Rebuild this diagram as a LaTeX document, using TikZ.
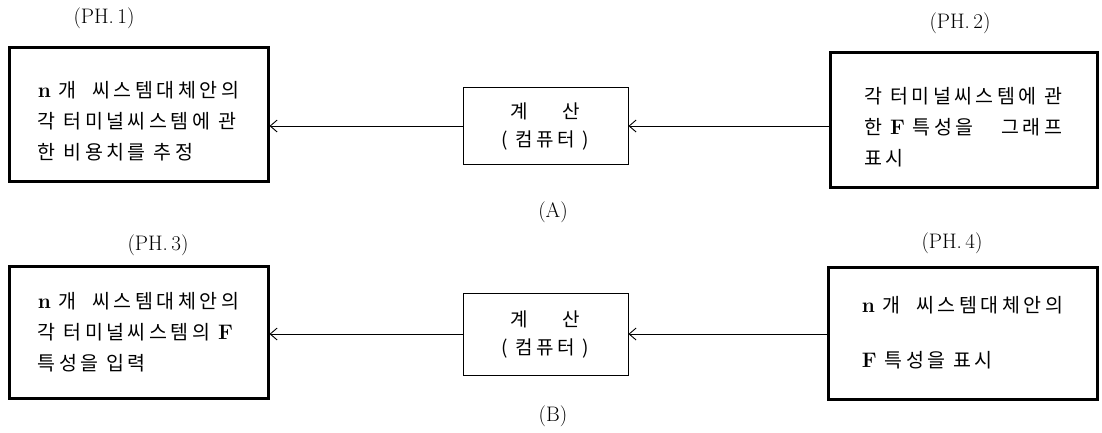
\documentclass[tikz,border=0pt]{standalone}
\usepackage{fontspec}
\newfontfamily\kr{Noto Sans CJK KR}[LetterSpace=18]
\usetikzlibrary{arrows.meta}
\newcommand{\bl}[1]{{\rmfamily\bfseries\fontsize{21}{31}\selectfont #1}}
\newcommand{\dn}[1]{\rule{0pt}{#1}}
\tikzset{
  phase/.style={draw, line width=3pt, align=left, inner sep=0pt,
    font=\kr\fontsize{19.5}{31}\selectfont},
  calc/.style={draw, line width=0.9pt, align=center, inner sep=0pt,
    minimum width=165pt, minimum height=77pt,
    font=\kr\fontsize{19}{28}\selectfont},
  lab/.style={font=\rmfamily\fontsize{21}{22}\selectfont},
  conn/.style={line width=0.9pt, -{Straight Barb[length=7pt,width=12pt]}}
}
\begin{document}
\begin{tikzpicture}[x=1pt,y=-1pt]
\useasboundingbox (0,0) rectangle (1102,432);
% row A
\node[lab] (ph1) at (104,18) {(PH.\,1)};
\node[phase, minimum width=259pt, minimum height=134pt] (b1) at (138.5,114)
  {\dn{30pt}\bl{n} 개 \ 씨스템대체안의\\ 각 터미널씨스템에 관\\ 한 비용치를 추정};
\node[calc] (ca) at (545.5,126) {계 \quad\ 산\\( 컴퓨터 )};
\node[lab] (la) at (553,212) {(A)};
\node[lab] (ph2) at (960,23) {(PH.\,2)};
\node[phase, minimum width=267pt, minimum height=135pt] (b2) at (963.5,120)
  {\dn{30pt}각 터미널씨스템에 관\\ 한 \bl{F} 특성을 \quad 그래프\\ 표시};
\draw[conn] (b2.west |- ca.east) -- (ca.east);
\draw[conn] (ca.west) -- (b1.east |- ca.west);
% row B
\node[lab] (ph3) at (158,245) {(PH.\,3)};
\node[phase, minimum width=259pt, minimum height=132pt] (b3) at (138.5,332)
  {\bl{n} 개 \ 씨스템대체안의\\ 각 터미널씨스템의 \bl{F}\\ 특성을 입력};
\node[calc, minimum height=82pt] (cb) at (545.5,334) {계 \quad\ 산\\( 컴퓨터 )};
\node[lab] (lb) at (553,416) {(B)};
\node[lab] (ph4) at (952,243) {(PH.\,4)};
\node[phase, minimum width=269pt, minimum height=132pt] (b4) at (962.5,333)
  {\bl{n} 개 \ 씨스템대체안의\\[24pt] \bl{F} 특성을 표시};
\draw[conn] (b4.west |- cb.east) -- (cb.east);
\draw[conn] (cb.west) -- (b3.east |- cb.west);
\end{tikzpicture}
\end{document}
